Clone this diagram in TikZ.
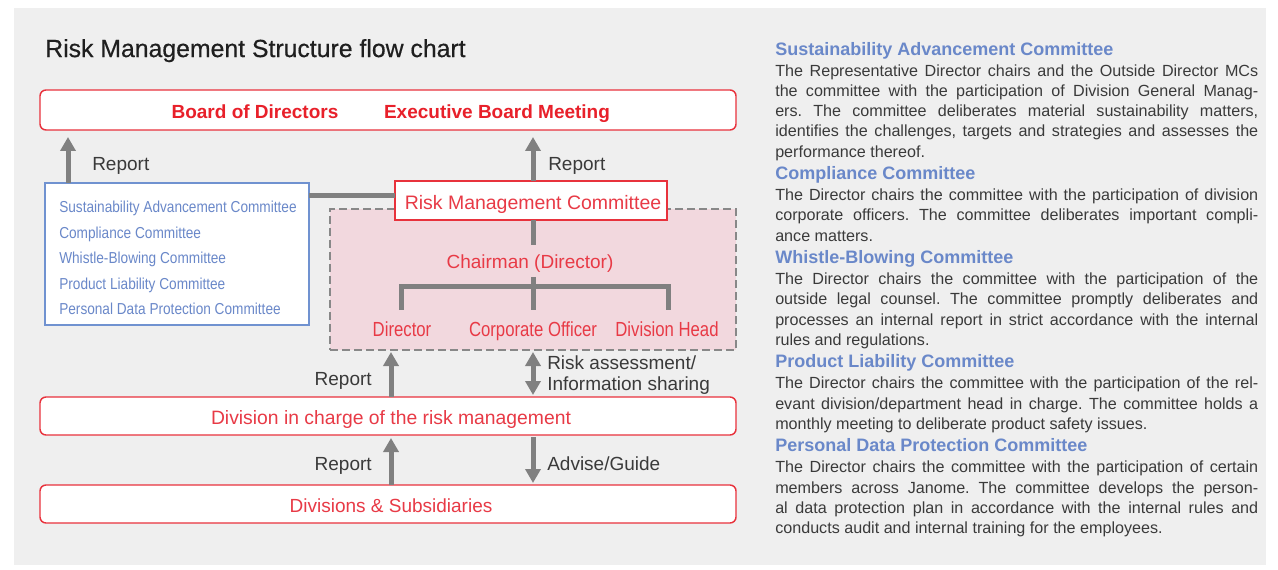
\documentclass[tikz,border=0pt]{standalone}
\usepackage{fontspec}
\setmainfont{Liberation Sans}
\newfontfamily\condf{Liberation Sans}[FakeStretch=0.86]
\newfontfamily\condg{Liberation Sans}[FakeStretch=0.82]
\newfontfamily\titlef{Liberation Sans}[FakeBold=0.5]
\usetikzlibrary{arrows.meta}
\definecolor{bgcol}{HTML}{EFEFEF}
\definecolor{redb}{HTML}{E8323C}
\definecolor{redt}{HTML}{E83A46}
\definecolor{redbold}{HTML}{E8202A}
\definecolor{gline}{HTML}{808080}
\definecolor{labgrey}{HTML}{3A3A3A}
\definecolor{blueb}{HTML}{7092D0}
\definecolor{bluet}{HTML}{6A88C9}
\definecolor{pinkf}{HTML}{F2D8DE}
\definecolor{dashc}{HTML}{888888}
\definecolor{titlec}{HTML}{1F1F1F}
\begin{document}
\begin{tikzpicture}[x=0.75pt,y=-0.75pt,
  txt/.style={inner sep=0pt,text height=2.0ex,text depth=0pt},
  rbox/.style={draw=redb,line width=1.1pt,fill=white,rounded corners=4.5pt,inner sep=0pt,outer sep=0pt},
  gl/.style={draw=gline,line width=3.75pt},
  arr/.style={gl,-{Triangle[width=11.25pt,length=10.5pt]}},
  darr/.style={gl,{Triangle[width=11.25pt,length=10.5pt]}-{Triangle[width=11.25pt,length=10.5pt]}},
  lab/.style={txt,text=labgrey,font=\fontsize{14.25}{16}\selectfont},
  rlab/.style={txt,text=redt,font=\fontsize{14.25}{16}\selectfont},
  clab/.style={txt,text=redt,font=\condg\fontsize{15.3}{17}\selectfont},
  blab/.style={txt,anchor=west,text=bluet,font=\condf\fontsize{11.9}{13}\selectfont},
]
\useasboundingbox (0,0) rectangle (1278,570);
\fill[bgcol] (14,8) rectangle (1266,565);

% title
\node[txt,anchor=west,text=titlec,font=\titlef\fontsize{18.6}{22}\selectfont] (title) at (45,50) {Risk Management Structure flow chart};

% dashed pink area
\node[draw=dashc,line width=1pt,dash pattern=on 6pt off 3pt,fill=pinkf,minimum width=304.5pt,minimum height=105.75pt,inner sep=0pt,outer sep=0pt] (dash) at (533,279.5) {};

% boxes
\node[rbox,minimum width=522pt,minimum height=30pt] (board) at (388,110) {};
\node[draw=blueb,line width=1.5pt,fill=white,minimum width=198pt,minimum height=106.5pt,inner sep=0pt,outer sep=0pt] (cbox) at (177,254) {};
\node[draw=redb,line width=1.1pt,fill=white,minimum width=204pt,minimum height=29.25pt,inner sep=0pt,outer sep=0pt] (rmc) at (531,200.5) {};
\node[rbox,minimum width=522pt,minimum height=28.5pt] (div) at (388,416) {};
\node[rbox,minimum width=522pt,minimum height=28.5pt] (divs) at (388,504) {};

% helper coordinates
\coordinate (xL) at (68,0);
\coordinate (xR) at (533,0);
\coordinate (xM) at (391,0);
\coordinate (yc) at (0,196);
\coordinate (b0) at (533,277);
\coordinate (b1) at (401,310);
\coordinate (b1t) at (401,287);
\coordinate (b2) at (533,310);
\coordinate (b3) at (668,310);
\coordinate (b3t) at (668,287);
\coordinate (chtop) at (533,245);

% connectors
\draw[arr,shorten >=5.25pt] (cbox.north -| xL) -- (board.south -| xL);
\draw[arr,shorten >=5.25pt] (rmc.north -| xR) -- (board.south -| xR);
\draw[gl] (cbox.east |- yc) -- (rmc.west |- yc);
\draw[gl] (rmc.south -| xR) -- (chtop);
\draw[gl,line join=miter] (b1) -- (b1t) -- (b3t) -- (b3);
\draw[gl] (b0) -- (b2);
\draw[arr,shorten >=1.5pt] (div.north -| xM) -- (dash.south -| xM);
\draw[darr,shorten >=1.5pt,shorten <=1.5pt] (div.north -| xR) -- (dash.south -| xR);
\draw[arr,shorten >=2.25pt] (divs.north -| xM) -- (div.south -| xM);
\draw[arr,shorten >=1.5pt,shorten <=1.5pt] (div.south -| xR) -- (divs.north -| xR);

% texts in boxes
\node[txt,text=redbold,font=\bfseries\fontsize{14.25}{16}\selectfont] (bod) at (255,111) {Board of Directors};
\node[txt,text=redbold,font=\bfseries\fontsize{14.25}{16}\selectfont] (ebm) at (497,111) {Executive Board Meeting};
\node[rlab,font=\fontsize{14.6}{16}\selectfont] (rmct) at (533,202) {Risk Management Committee};
\node[rlab] (ch) at (530,261) {Chairman (Director)};
\node[clab] (d1) at (402,329) {Director};
\node[clab] (d2) at (533,329) {Corporate Officer};
\node[clab] (d3) at (667,329) {Division Head};
\node[rlab,font=\fontsize{14.5}{16}\selectfont] (divt) at (391,417) {Division in charge of the risk management};
\node[rlab] (divst) at (391,505) {Divisions \& Subsidiaries};

\node[blab] (c1) at (59,205) {Sustainability Advancement Committee};
\node[blab] (c2) at (59,231) {Compliance Committee};
\node[blab] (c3) at (59,256) {Whistle-Blowing Committee};
\node[blab] (c4) at (59,282) {Product Liability Committee};
\node[blab] (c5) at (59,307) {Personal Data Protection Committee};

% connector labels
\node[lab,anchor=west] (r1) at (92,163) {Report};
\node[lab,anchor=west] (r2) at (548,163) {Report};
\node[lab,anchor=east] (r3) at (372,378) {Report};
\node[lab,anchor=west] (ra1) at (547,362) {Risk assessment/};
\node[lab,anchor=west] (ra2) at (547,383) {Information sharing};
\node[lab,anchor=east] (r4) at (372,463) {Report};
\node[lab,anchor=west] (ag) at (547,463) {Advise/Guide};

% right column
\node[anchor=north west,inner sep=0pt,text width=362.25pt,align=justify,text=labgrey] (desc) at (775,40.9) {%
\fontsize{12.1}{15.15}\selectfont\frenchspacing\parindent=0pt\parskip=0pt\hyphenpenalty=10000\exhyphenpenalty=10000
\def\hd#1{{\color{bluet}\bfseries\fontsize{13.5}{15.15}\selectfont\strut #1\par}\vspace{0.6pt}}%
\hd{Sustainability Advancement Committee}
The Representative Director chairs and the Outside Director MCs\linebreak
the committee with the participation of Division General Manag-\linebreak
ers. The committee deliberates material sustainability matters,\linebreak
identifies the challenges, targets and strategies and assesses the\linebreak
performance thereof.\par\vspace{1.8pt}
\hd{Compliance Committee}
The Director chairs the committee with the participation of division\linebreak
corporate officers. The committee deliberates important compli-\linebreak
ance matters.\par\vspace{1.8pt}
\hd{Whistle-Blowing Committee}
The Director chairs the committee with the participation of the\linebreak
outside legal counsel. The committee promptly deliberates and\linebreak
processes an internal report in strict accordance with the internal\linebreak
rules and regulations.\par\vspace{1.8pt}
\hd{Product Liability Committee}
The Director chairs the committee with the participation of the rel-\linebreak
evant division/department head in charge. The committee holds a\linebreak
monthly meeting to deliberate product safety issues.\par\vspace{1.8pt}
\hd{Personal Data Protection Committee}
The Director chairs the committee with the participation of certain\linebreak
members across Janome. The committee develops the person-\linebreak
al data protection plan in accordance with the internal rules and\linebreak
conducts audit and internal training for the employees.\par
};
\end{tikzpicture}
\end{document}
